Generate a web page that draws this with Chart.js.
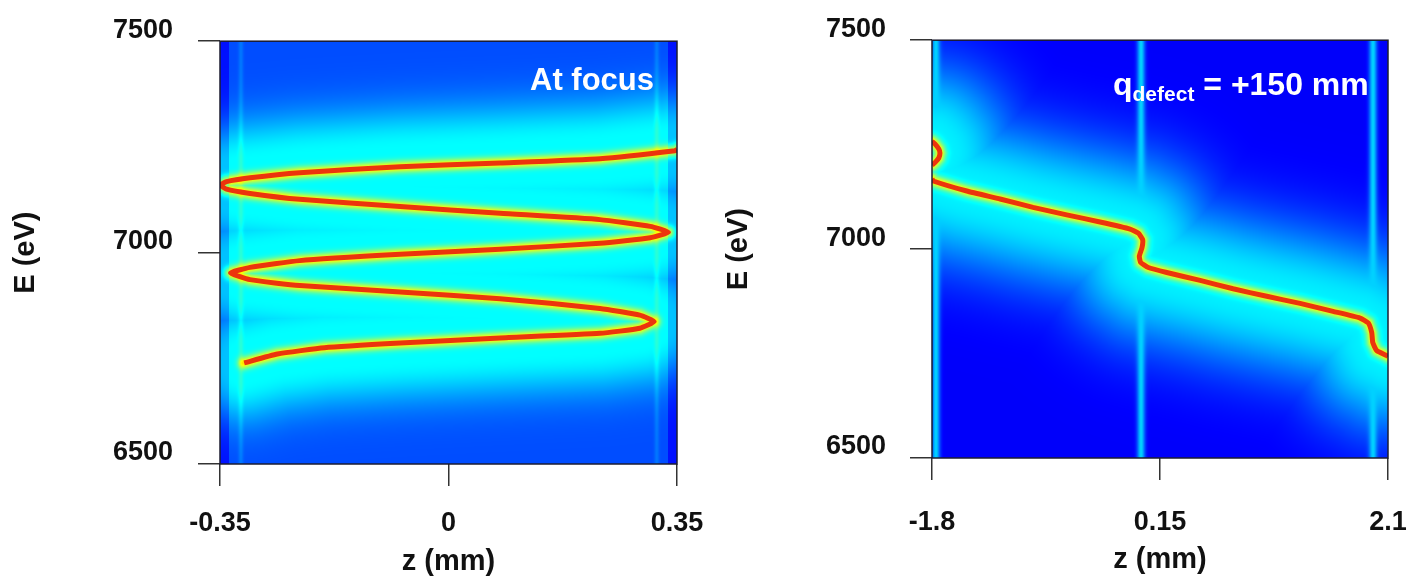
<!DOCTYPE html>
<html>
<head>
<meta charset="utf-8">
<script src="https://cdn.jsdelivr.net/npm/chart.js@4.4.1/dist/chart.umd.min.js"></script>
<style>
    html, body { margin: 0; padding: 0; background: #fff; }
    #wrap { position: relative; width: 1408px; height: 580px; }
    .panel { position: absolute; top: 0; height: 580px; }
    .note {
        position: absolute;
        color: #fff;
        font-family: 'Liberation Sans', Arial, sans-serif;
        font-weight: bold;
        white-space: nowrap;
    }
    .note sub { font-size: 21px; vertical-align: baseline; position: relative; top: 6px; }
</style>
</head>
<body>
<div id="wrap">
    <div class="panel" style="left:0;width:720px">
        <canvas id="leftChart"></canvas>
        <div class="note" style="left:530px;top:64px;font-size:31px;line-height:31px">At focus</div>
    </div>
    <div class="panel" style="left:700px;width:708px">
        <canvas id="rightChart"></canvas>
        <div class="note" style="left:413px;top:68px;font-size:32px;line-height:32px">q<sub>defect</sub> = +150 mm</div>
    </div>
</div>
<script>
// Data

// left panel: at focus, zigzag trace
var leftZ = [0.350, 0.347, 0.232, 0.079, -0.074, -0.228, -0.304, -0.340, -0.349,
    -0.340, -0.304, -0.228, -0.074, 0.079, 0.232, 0.309, 0.337,
    0.309, 0.232, 0.079, -0.074, -0.228, -0.304, -0.334,
    -0.304, -0.228, -0.074, 0.079, 0.232, 0.293, 0.315,
    0.293, 0.232, 0.079, -0.074, -0.190, -0.262, -0.313];
var leftE = [7244, 7241, 7222, 7212, 7203, 7189, 7177, 7168, 7160,
    7150, 7140, 7126, 7109, 7093, 7078, 7062, 7048,
    7035, 7022, 7008, 6996, 6981, 6965, 6952,
    6936, 6922, 6907, 6891, 6868, 6852, 6837,
    6821, 6809, 6798, 6786, 6775, 6760, 6739];

// right panel: q_defect = +150 mm
var rightZ = [-1.800, -1.789, -1.503, -1.218, -0.936, -0.648, -0.363, -0.106, -0.035, 0.002, -0.004, -0.027, -0.015, 0.050,
    0.208, 0.493, 0.775, 1.063, 1.348, 1.630, 1.861, 1.932, 1.961, 1.970, 2.004, 2.090, 2.100];
var rightE = [7168, 7163, 7139, 7120, 7100, 7082, 7065, 7048, 7038, 7022, 7003, 6983, 6968, 6956,
    6944, 6925, 6905, 6887, 6870, 6851, 6835, 6823, 6800, 6776, 6757, 6745, 6743];
var loopZ = [-1.800, -1.775, -1.742, -1.732, -1.742, -1.775, -1.800];
var loopE = [7258, 7252, 7240, 7230, 7218, 7207, 7201];

// axes
var leftXTicks = [-0.35, 0, 0.35];
var leftXLabels = ['-0.35', '0', '0.35'];
var rightXTicks = [-1.8, 0.15, 2.1];
var rightXLabels = ['-1.8', '0.15', '2.1'];
var yTicks = [6500, 7000, 7500];
var yLabels = ['6500', '7000', '7500'];

// faint vertical stripes in the maps (z positions)
var leftStrips = [-0.318, 0.319];
var rightStrips = [-1.766, -0.012, 1.972];

function toPoints(zs, es) {
    return zs.map(function(z, i) { return { x: z, y: es[i] }; });
}

// jet colour map
function jet(v) {
    var c = function(t) { return Math.max(0, Math.min(1, t)); };
    return [c(1.5 - Math.abs(4 * v - 3)), c(1.5 - Math.abs(4 * v - 2)), c(1.5 - Math.abs(4 * v - 1))];
}

// glow map behind the trace, from the distance to the drawn trace
var heatPlugin = {
    id: 'heat',
    beforeDatasetsDraw: function(chart, args, o) {
        var a = chart.chartArea;
        var x0 = Math.round(a.left), y0 = Math.round(a.top);
        var w = Math.round(a.right) - x0, h = Math.round(a.bottom) - y0;
        var segs = [];
        chart.data.datasets.forEach(function(ds, i) {
            var pts = chart.getDatasetMeta(i).data;
            for (var k = 1; k < pts.length; k++) {
                segs.push([pts[k - 1].x, pts[k - 1].y, pts[k].x, pts[k].y]);
            }
        });
        var strips = o.strips.map(function(z) { return chart.scales.x.getPixelForValue(z); });
        var img = chart.ctx.createImageData(w, h);
        for (var j = 0; j < h; j++) {
            for (var i = 0; i < w; i++) {
                var px = x0 + i + 0.5, py = y0 + j + 0.5;
                var best = Infinity;
                for (var s = 0; s < segs.length; s++) {
                    var g = segs[s];
                    var dx = g[2] - g[0], dy = g[3] - g[1];
                    var L = dx * dx + dy * dy;
                    var t = L ? ((px - g[0]) * dx + (py - g[1]) * dy) / L : 0;
                    t = Math.max(0, Math.min(1, t));
                    var ex = g[0] + t * dx - px, ey = g[1] + t * dy - py;
                    var d2 = ex * ex + ey * ey;
                    if (d2 < best) best = d2;
                }
                var d = Math.sqrt(best);
                var f = d < o.flat ? 1 : Math.exp(-Math.pow((d - o.flat) / o.spread, 2));
                var v = o.base + (o.plateau - o.base) * f;
                v += o.glow * Math.exp(-(d * d) / (o.glowW * o.glowW));
                for (var q = 0; q < strips.length; q++) {
                    var k2 = Math.exp(-Math.pow((px - strips[q]) / o.stripW, 2));
                    v = v + o.stripAdd * k2;
                    if (o.stripV) v = v + Math.max(0, o.stripV - v) * k2;
                }
                if (px - a.left < o.edge || a.right - px < o.edge) v -= o.edgeDrop;
                var c = jet(v);
                var p = (j * w + i) * 4;
                img.data[p] = c[0] * 255;
                img.data[p + 1] = c[1] * 255;
                img.data[p + 2] = c[2] * 255;
                img.data[p + 3] = 255;
            }
        }
        chart.ctx.putImageData(img, x0, y0);
    },
    afterDraw: function(chart) {
        var a = chart.chartArea, ctx = chart.ctx;
        ctx.save();
        ctx.strokeStyle = '#1c1c30';
        ctx.lineWidth = 1.5;
        ctx.strokeRect(a.left, a.top, a.right - a.left, a.bottom - a.top);
        ctx.restore();
    }
};

var tickFont = { family: "'Liberation Sans', Arial, sans-serif", weight: 'bold', size: 27 };
var titleFont = { family: "'Liberation Sans', Arial, sans-serif", weight: 'bold', size: 29 };

function traceSet(points) {
    return {
        data: points,
        showLine: true,
        borderColor: 'rgb(236, 52, 12)',
        borderWidth: 5,
        pointRadius: 0,
        tension: 0.15,
        fill: false
    };
}

function makeChart(id, cfg) {
    var ctx = document.getElementById(id).getContext('2d');
    return new Chart(ctx, {
        type: 'scatter',
        data: { datasets: cfg.datasets },
        plugins: [heatPlugin],
        options: {
            responsive: true,
            maintainAspectRatio: false,
            animation: false,
            layout: { padding: { left: 0, right: cfg.padRight, top: cfg.padTop, bottom: 0 } },
            plugins: {
                legend: { display: false },
                tooltip: { enabled: false },
                heat: cfg.heat
            },
            scales: {
                x: {
                    type: 'linear',
                    min: cfg.xTicks[0],
                    max: cfg.xTicks[cfg.xTicks.length - 1],
                    afterBuildTicks: function(s) {
                        s.ticks = cfg.xTicks.map(function(v) { return { value: v }; });
                    },
                    afterFit: function(s) {
                        s.height = cfg.xAxisHeight;
                        s.paddingLeft = 0;
                        s.paddingRight = 0;
                    },
                    border: { display: false },
                    grid: { drawOnChartArea: false, drawTicks: true, tickLength: 22, color: '#333', lineWidth: 1.5 },
                    ticks: {
                        autoSkip: false,
                        maxRotation: 0,
                        padding: cfg.xTickPad,
                        color: '#111',
                        font: tickFont,
                        callback: function(v, i) { return cfg.xLabels[i]; }
                    },
                    title: { display: true, text: 'z (mm)', color: '#111', font: titleFont, padding: { top: 0, bottom: cfg.xTitlePad } }
                },
                y: {
                    type: 'linear',
                    min: 6500,
                    max: 7500,
                    afterBuildTicks: function(s) {
                        s.ticks = yTicks.map(function(v) { return { value: v }; });
                    },
                    afterFit: function(s) {
                        s.width = cfg.yAxisWidth;
                    },
                    border: { display: false },
                    grid: { drawOnChartArea: false, drawTicks: true, tickLength: 22, color: '#333', lineWidth: 1.5 },
                    ticks: {
                        autoSkip: false,
                        padding: cfg.yTickPad,
                        labelOffset: -11,
                        color: '#111',
                        font: tickFont,
                        callback: function(v, i) { return yLabels[i]; }
                    },
                    title: { display: true, text: 'E (eV)', color: '#111', font: titleFont, padding: { top: cfg.yTitlePad, bottom: 0 } }
                }
            }
        }
    });
}

// Left chart - at focus

makeChart('leftChart', {
    datasets: [traceSet(toPoints(leftZ, leftE))],
    xTicks: leftXTicks,
    xLabels: leftXLabels,
    padRight: 43,
    padTop: 36,
    xAxisHeight: 116,
    yAxisWidth: 220,
    xTickPad: 21,
    yTickPad: 25,
    xTitlePad: 1,
    yTitlePad: 9,
    heat: {
        base: 0.2, plateau: 0.375, flat: 18, spread: 42,
        glow: 0.27, glowW: 6,
        strips: leftStrips, stripW: 2.5, stripAdd: 0.04, stripV: 0,
        edge: 9, edgeDrop: 0.06
    }
});

// Right chart - q_defect = +150 mm

makeChart('rightChart', {
    datasets: [traceSet(toPoints(rightZ, rightE)), traceSet(toPoints(loopZ, loopE))],
    xTicks: rightXTicks,
    xLabels: rightXLabels,
    padRight: 20,
    padTop: 31,
    xAxisHeight: 122,
    yAxisWidth: 232,
    xTickPad: 26,
    yTickPad: 24,
    xTitlePad: 3,
    yTitlePad: 22,
    heat: {
        base: 0.12, plateau: 0.36, flat: 10, spread: 68,
        glow: 0.28, glowW: 6,
        strips: rightStrips, stripW: 4, stripAdd: 0, stripV: 0.33,
        edge: 0, edgeDrop: 0
    }
});
</script>
</body>
</html>
